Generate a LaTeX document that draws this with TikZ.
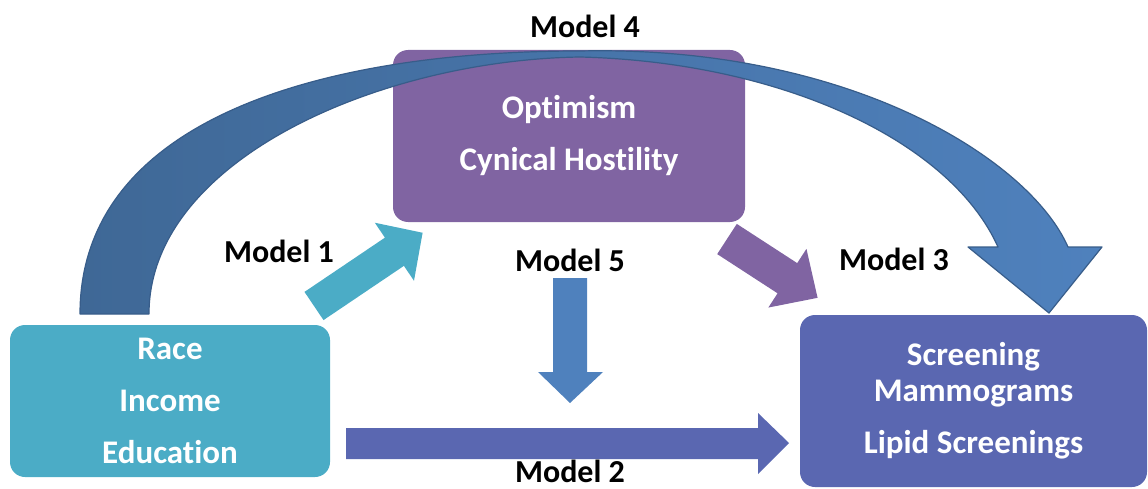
\documentclass[tikz,border=0pt]{standalone}
\usepackage{fontspec}
\setmainfont{Carlito}[Ligatures=NoCommon]
\definecolor{tealbox}{HTML}{4BACC6}
\definecolor{purpbox}{HTML}{8064A2}
\definecolor{indigobox}{HTML}{5A67B1}
\definecolor{bluearr}{HTML}{4F81BD}
\definecolor{arcL}{HTML}{3F6896}
\definecolor{arcEdge}{HTML}{385D8A}
\begin{document}
\begin{tikzpicture}[x=1pt,y=-1pt,
  box/.style={fill=#1, rounded corners=15pt, text=white,
    font=\bfseries\fontsize{33}{52}\selectfont, align=center, inner sep=0pt},
  lab/.style={font=\bfseries\fontsize{32}{38}\selectfont, text=black, inner sep=0pt}]
\useasboundingbox (0,0) rectangle (1148,489);
% boxes
\node[box=tealbox, minimum width=320pt, minimum height=152pt] (src) at (170,401) {Race\\Income\\Education};
\node[box=purpbox, minimum width=352pt, minimum height=172pt] (med) at (569,136) {Optimism\\Cynical Hostility};
\node[box=indigobox, minimum width=347pt, minimum height=172pt] (out) at (973.5,401) {Screening\\[-16pt]Mammograms\\Lipid Screenings};
% curved arrow (Model 4)
\draw[arcEdge, line width=1.2pt, line join=round, left color=arcL, right color=bluearr]
  (80,314) .. controls (80,120) and (320,51) .. (580,51)
  .. controls (850,45) and (1030,160) .. (1068,247)
  -- (1102,247) -- (1049,313) -- (968,247) -- (998,247)
  .. controls (950,140) and (780,62) .. (580,57)
  .. controls (380,60) and (149,160) .. (149,314) -- cycle;
% Model 1 arrow
\begin{scope}[shift={(314,306)}, rotate=34]
  \fill[tealbox] (0,-17) -- (97,-17) -- (97,-35) -- (131,0) -- (97,35) -- (97,17) -- (0,17) -- cycle;
\end{scope}
% Model 3 arrow
\begin{scope}[shift={(727,239)}, rotate=-33]
  \fill[purpbox] (0,-18) -- (72,-18) -- (72,-35) -- (108,0) -- (72,35) -- (72,18) -- (0,18) -- cycle;
\end{scope}
% Model 5 arrow
\fill[bluearr] (553,278) -- (587,278) -- (587,372) -- (603,372) -- (570,403) -- (538,372) -- (553,372) -- cycle;
% Model 2 arrow
\fill[indigobox] (346,428) -- (758,428) -- (758,413) -- (789,443) -- (758,474) -- (758,459) -- (346,459) -- cycle;
% labels
\node[lab] (m4) at (585,26) {Model 4};
\node[lab] (m1) at (279,251) {Model 1};
\node[lab] (m5) at (570,260) {Model 5};
\node[lab] (m3) at (894,259) {Model 3};
\node[lab] (m2) at (570,471) {Model 2};
\end{tikzpicture}
\end{document}
